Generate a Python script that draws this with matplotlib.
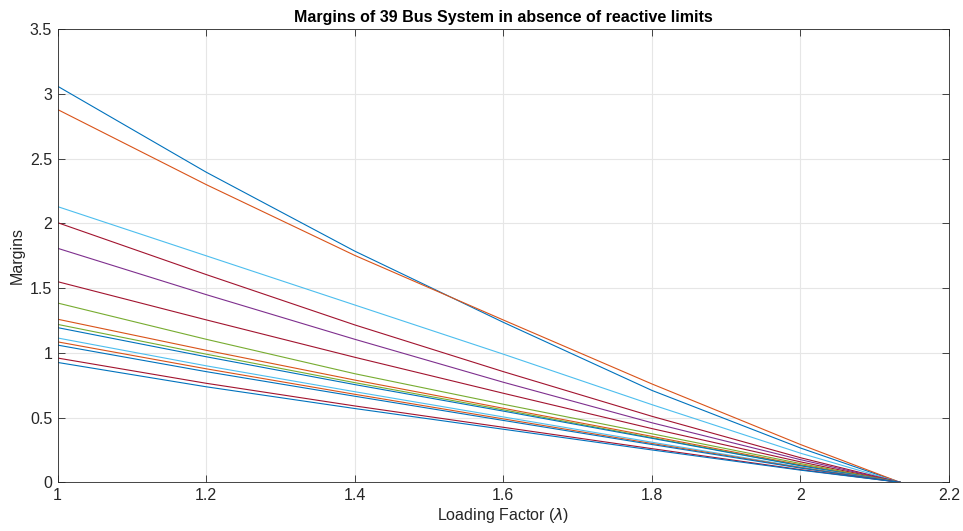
import matplotlib
matplotlib.use("Agg")
import matplotlib.pyplot as plt

plt.rcParams['font.family'] = ['Liberation Sans', 'DejaVu Sans']

# Loading factor sample points (lambda)
lam = [1.0, 1.2, 1.4, 1.6, 1.8, 2.0, 2.134]

# Margins of each curve read at the sample points
m_blue_a    = [3.06, 2.396, 1.786, 1.236, 0.71, 0.265, 0.0]
m_orange_a  = [2.88, 2.30, 1.753, 1.254, 0.76, 0.292, 0.0]
m_cyan_a    = [2.13, 1.75, 1.37, 0.99, 0.60, 0.225, 0.0]
m_red_a     = [2.006, 1.605, 1.216, 0.855, 0.51, 0.19, 0.0]
m_purple_a  = [1.808, 1.45, 1.105, 0.773, 0.46, 0.175, 0.0]
m_red_b     = [1.55, 1.255, 0.966, 0.688, 0.415, 0.158, 0.0]
m_green_a   = [1.385, 1.105, 0.839, 0.603, 0.375, 0.145, 0.0]
m_orange_b  = [1.26, 1.02, 0.79, 0.572, 0.355, 0.135, 0.0]
m_green_b   = [1.22, 0.99, 0.77, 0.56, 0.345, 0.13, 0.0]
m_blue_b    = [1.195, 0.97, 0.755, 0.55, 0.34, 0.128, 0.0]
m_cyan_b    = [1.115, 0.90, 0.70, 0.505, 0.31, 0.118, 0.0]
m_orange_c  = [1.085, 0.877, 0.68, 0.49, 0.30, 0.114, 0.0]
m_blue_c    = [1.06, 0.855, 0.665, 0.478, 0.292, 0.11, 0.0]
m_red_c     = [0.96, 0.765, 0.59, 0.425, 0.26, 0.098, 0.0]
m_blue_d    = [0.926, 0.738, 0.57, 0.41, 0.25, 0.094, 0.0]

series = [
    (m_blue_a, '#0072BD'), (m_orange_a, '#D95319'), (m_cyan_a, '#4DBEEE'),
    (m_red_a, '#A2142F'), (m_purple_a, '#7E2F8E'), (m_red_b, '#A2142F'),
    (m_green_a, '#77AC30'), (m_orange_b, '#D95319'), (m_green_b, '#77AC30'),
    (m_blue_b, '#0072BD'), (m_cyan_b, '#4DBEEE'), (m_orange_c, '#D95319'),
    (m_blue_c, '#0072BD'), (m_red_c, '#A2142F'), (m_blue_d, '#0072BD'),
]

xticks = [1, 1.2, 1.4, 1.6, 1.8, 2, 2.2]
xticklabels = ['1', '1.2', '1.4', '1.6', '1.8', '2', '2.2']
yticks = [0, 0.5, 1, 1.5, 2, 2.5, 3, 3.5]
yticklabels = ['0', '0.5', '1', '1.5', '2', '2.5', '3', '3.5']

fig = plt.figure(figsize=(9.63, 5.31), dpi=100)
ax = fig.add_axes([0.0599, 0.0917, 0.9256, 0.8531])

for vals, col in series:
    ax.plot(lam, vals, color=col, linewidth=0.8)

ax.set_xlim(1, 2.2)
ax.set_ylim(0, 3.5)
ax.set_xticks(xticks)
ax.set_xticklabels(xticklabels)
ax.set_yticks(yticks)
ax.set_yticklabels(yticklabels)
ax.grid(True, color='#e6e6e6', linewidth=0.8)
ax.set_axisbelow(True)
ax.tick_params(direction='in', top=True, right=True, length=5, width=0.6,
               colors='#262626', labelsize=11.5, pad=4)
for s in ax.spines.values():
    s.set_color('#262626')
    s.set_linewidth(0.6)

ax.set_xlabel('Loading Factor ($\\lambda$)', fontsize=11.5, color='#262626', labelpad=2)
ax.set_ylabel('Margins', fontsize=11.5, color='#262626', labelpad=4)
ax.set_title('Margins of 39 Bus System in absence of reactive limits',
             fontsize=11.5, fontweight='bold', color='black', pad=5)

fig.savefig('out.png', dpi=100)
